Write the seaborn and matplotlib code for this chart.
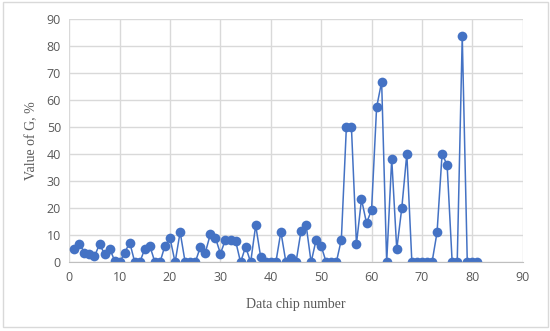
import numpy as np
import pandas as pd
import matplotlib
matplotlib.use("Agg")
import matplotlib.pyplot as plt
import seaborn as sns
from matplotlib.patches import Rectangle

# chip numbers 1..81 and G values (%)
chip = list(range(1, 82))
g_value = [5.1, 6.9, 3.6, 3.1, 2.2, 6.7, 3.1, 5.1, 0.6, 0.0,
           3.6, 7.3, 0.0, 0.0, 5.1, 6.0, 0.0, 0.0, 6.2, 8.9,
           0.0, 11.2, 0.0, 0.0, 0.0, 5.6, 3.6, 10.4, 9.1, 3.2,
           8.4, 8.4, 8.0, 0.0, 5.8, 0.0, 13.7, 1.8, 0.0, 0.0,
           0.0, 11.3, 0.0, 1.5, 0.0, 11.6, 13.9, 0.0, 8.4, 6.0,
           0.0, 0.0, 0.0, 8.4, 50.0, 50.0, 6.8, 23.3, 14.5, 19.4,
           57.3, 66.8, 0.0, 38.3, 4.8, 20.1, 40.2, 0.0, 0.0, 0.0,
           0.0, 0.0, 11.1, 40.2, 35.9, 0.0, 0.0, 83.6, 0.0, 0.0,
           0.0]
x_ticks = [0, 10, 20, 30, 40, 50, 60, 70, 80, 90]
y_ticks = [0, 10, 20, 30, 40, 50, 60, 70, 80, 90]

df = pd.DataFrame({"chip": chip, "G": g_value})

sns.set_style("white")
plt.rcParams['font.family'] = ['Open Sans', 'DejaVu Sans']

fig = plt.figure(figsize=(5.5, 3.31), dpi=100)
ax = fig.add_axes([69.3/550, 1 - 262.3/331, (522.7 - 69.3)/550, (262.3 - 19)/331])

# outer chart border
fig.patches.append(Rectangle((3/550, 4/331), 545/550, 325/331, transform=fig.transFigure,
                             fill=False, edgecolor='#d9d9d9', linewidth=1))

sns.lineplot(data=df, x="chip", y="G", ax=ax, color='#4472C4', linewidth=1.1,
             marker='o', markersize=7, markeredgewidth=0, markerfacecolor='#4472C4')

ax.set_xlim(0, 90)
ax.set_ylim(0, 90)
ax.set_xticks(x_ticks)
ax.set_yticks(y_ticks)
ax.grid(True, color='#d9d9d9', linewidth=1)
ax.set_axisbelow(True)
for s in ['top', 'right', 'left']:
    ax.spines[s].set_visible(False)
ax.spines['bottom'].set_color('#bfbfbf')
ax.tick_params(axis='both', length=0, labelsize=9, labelcolor='#595959', pad=6)

ax.set_xlabel("Data chip number", family=['Liberation Serif'], fontsize=10, color='#595959', labelpad=10)
ax.set_ylabel("Value of G, %", family=['Liberation Serif'], fontsize=10, color='#595959', labelpad=6)

fig.savefig("out.png", dpi=100)
